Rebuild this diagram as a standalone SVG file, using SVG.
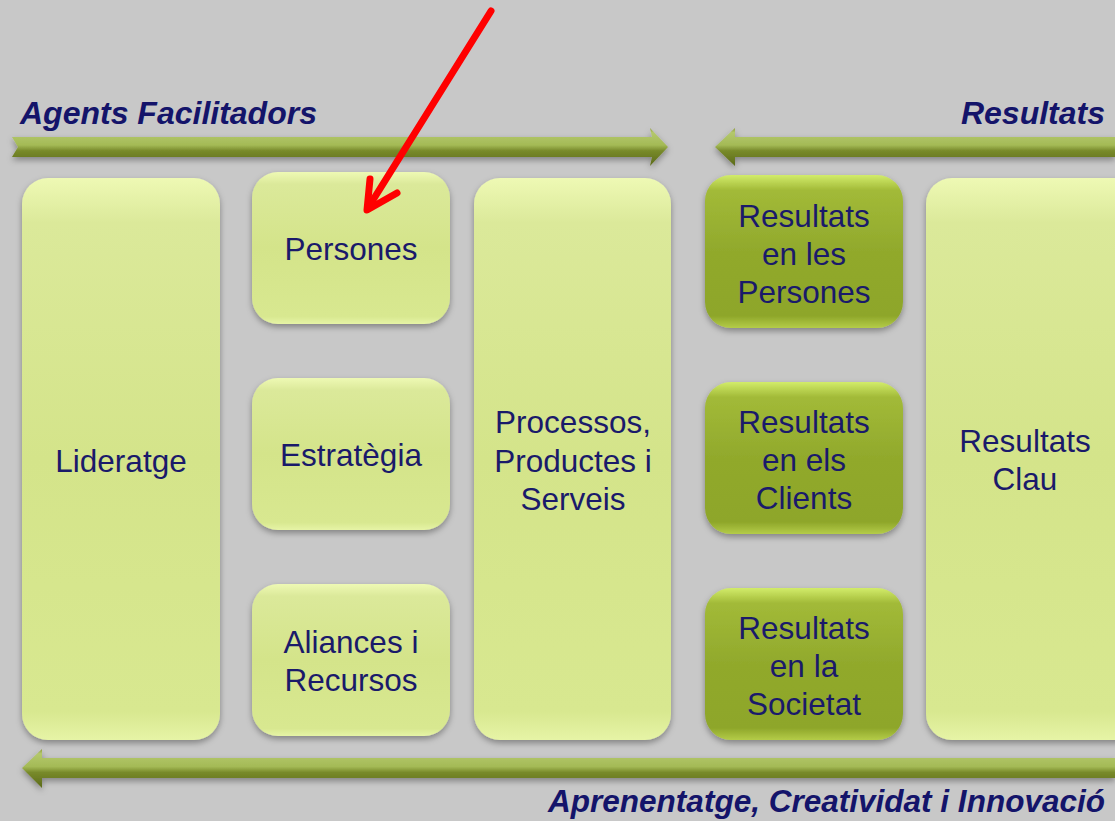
<svg xmlns="http://www.w3.org/2000/svg" width="1115" height="821" viewBox="0 0 1115 821">
<defs>
<linearGradient id="gLight" x1="0" y1="0" x2="0" y2="1">
<stop offset="0" stop-color="#eef9b4"/>
<stop offset="0.08" stop-color="#dbe99a"/>
<stop offset="0.5" stop-color="#d4e48a"/>
<stop offset="0.95" stop-color="#d8e890"/>
<stop offset="1" stop-color="#e6f4a6"/>
</linearGradient>
<linearGradient id="gDark" x1="0" y1="0" x2="0" y2="1">
<stop offset="0" stop-color="#d2ec6a"/>
<stop offset="0.1" stop-color="#a2ba38"/>
<stop offset="0.5" stop-color="#91a92c"/>
<stop offset="0.92" stop-color="#8ea62a"/>
<stop offset="1" stop-color="#b4cc48"/>
</linearGradient>
<linearGradient id="gBar" x1="0" y1="0" x2="0" y2="1">
<stop offset="0" stop-color="#8c9c3a"/>
<stop offset="0.12" stop-color="#b4c86c"/>
<stop offset="0.45" stop-color="#a4ba56"/>
<stop offset="0.6" stop-color="#788a2a"/>
<stop offset="1" stop-color="#5c6a1a"/>
</linearGradient>
<filter id="sh" x="-20%" y="-20%" width="140%" height="140%">
<feDropShadow dx="0" dy="3" stdDeviation="3" flood-color="#000" flood-opacity="0.35"/>
</filter>
</defs>
<style>
.lt{fill:url(#gLight);filter:url(#sh);}
.dk{fill:url(#gDark);filter:url(#sh);}
.t{font-family:"Liberation Sans",Arial,sans-serif;font-size:31.5px;fill:#1a1a6a;text-anchor:middle;}
.h{font-family:"Liberation Sans",Arial,sans-serif;font-size:32px;font-weight:bold;font-style:italic;fill:#14146a;}
.bar{fill:url(#gBar);filter:url(#sh);}
</style>
<rect x="0" y="0" width="1115" height="821" fill="#c8c8c8"/>

<g id="connectors">
<g id="arrow-agents">
<polygon class="bar" points="12,137 652,137 650,128 668,147 650,166 652,157 12,157 18,147"/>
</g>
<g id="arrow-resultats">
<polygon class="bar" points="1115,137 735,137 735,128 715,147 735,166 735,157 1115,157"/>
</g>
<g id="arrow-aprenentatge">
<polygon class="bar" points="1115,758 42,758 42,749 22,768 42,788 42,778 1115,778"/>
</g>
</g>

<text class="h" x="20" y="124">Agents Facilitadors</text>
<text class="h" x="1105" y="124" text-anchor="end">Resultats</text>
<text class="h" x="1105" y="812" text-anchor="end" textLength="557" lengthAdjust="spacingAndGlyphs">Aprenentatge, Creatividat i Innovació</text>

<g id="lideratge"><rect class="lt" x="22" y="178" width="198" height="562" rx="26"/><text class="t" x="121" y="472">Lideratge</text></g>
<g id="persones"><rect class="lt" x="252" y="172" width="198" height="152" rx="26"/><text class="t" x="351" y="260">Persones</text></g>
<g id="estrategia"><rect class="lt" x="252" y="378" width="198" height="152" rx="26"/><text class="t" x="351" y="466">Estratègia</text></g>
<g id="aliances"><rect class="lt" x="252" y="584" width="198" height="152" rx="26"/><text class="t" x="351" y="653">Aliances i</text><text class="t" x="351" y="691">Recursos</text></g>
<g id="processos"><rect class="lt" x="474" y="178" width="197" height="562" rx="26"/><text class="t" x="573" y="433">Processos,</text><text class="t" x="573" y="472">Productes i</text><text class="t" x="573" y="510">Serveis</text></g>
<g id="res-persones"><rect class="dk" x="705" y="175" width="198" height="153" rx="26"/><text class="t" x="804" y="227">Resultats</text><text class="t" x="804" y="265">en les</text><text class="t" x="804" y="303">Persones</text></g>
<g id="res-clients"><rect class="dk" x="705" y="382" width="198" height="152" rx="26"/><text class="t" x="804" y="433">Resultats</text><text class="t" x="804" y="471">en els</text><text class="t" x="804" y="509">Clients</text></g>
<g id="res-societat"><rect class="dk" x="705" y="588" width="198" height="152" rx="26"/><text class="t" x="804" y="639">Resultats</text><text class="t" x="804" y="677">en la</text><text class="t" x="804" y="715">Societat</text></g>
<g id="res-clau"><rect class="lt" x="926" y="178" width="220" height="562" rx="26"/><text class="t" x="1025" y="452">Resultats</text><text class="t" x="1025" y="490">Clau</text></g>

<g id="red-arrow" fill="none" stroke="#ff0000" stroke-width="7" stroke-linecap="round" stroke-linejoin="round">
<line x1="491" y1="11" x2="368" y2="208"/>
<polyline points="370,179 367,210 397,193"/>
</g>
</svg>
